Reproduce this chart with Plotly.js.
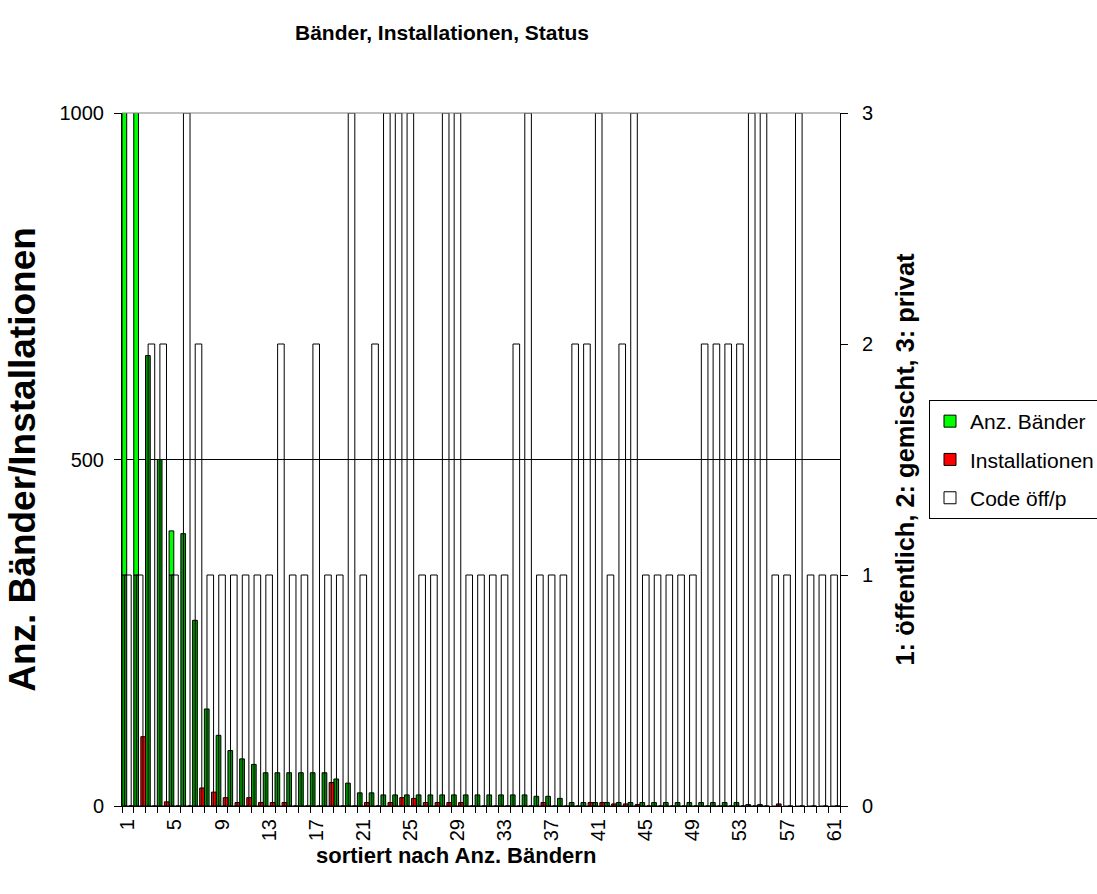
<!DOCTYPE html>
<html>
<head>
<meta charset="utf-8">
<script src="https://cdn.plot.ly/plotly-3.0.1.min.js"></script>
<style>html,body{margin:0;padding:0;background:#fff;}#chart{width:1097px;height:894px;}</style>
</head>
<body>
<div id="chart"></div>
<script>
// Category labels (sorted by number of bands)
const categories = [1,2,3,4,5,6,7,8,9,10,11,12,13,14,15,16,17,18,19,20,21,22,23,24,25,26,27,28,29,30,31,32,33,34,35,36,37,38,39,40,41,42,43,44,45,46,47,48,49,50,51,52,53,54,55,56,57,58,59,60,61];
// Anz. Bänder (left axis)
const baender = [1200,1100,650,500,397,393,268,140,102,80, 68,60,48,48,48,48,48,48,39,33, 19,19,16,16,16,16,16,16,16,16, 16,16,16,16,16,14,14,11,5,5, 5,5,5,5,5,5,5,5,5,5, 5,5,5,2,2,0,0,0,0,0,0];
// Installationen (left axis)
const installationen = [0,100,0,6,0,0,26,20,12,5, 12,5,5,5,0,0,0,34,0,0, 5,0,5,12,11,5,5,5,5,0, 0,0,0,0,0,5,0,0,0,5, 5,3,3,2,0,0,0,0,0,0, 0,0,0,0,0,3,0,0,0,0,0];
// Code öff/p (right axis): 1 öffentlich, 2 gemischt, 3 privat
const code = [1,1,2,2,1,3,2,1,1,1, 1,1,1,2,1,1,2,1,1,3, 1,2,3,3,3,1,1,3,3,1, 1,1,1,2,3,1,1,1,2,2, 3,1,2,3,1,1,1,1,1,2, 2,2,2,3,3,1,1,3,1,1,1];
const xTickLabels = [1,5,9,13,17,21,25,29,33,37,41,45,49,53,57,61];
const leftTicks = [0,500,1000];
const rightTicks = [0,1,2,3];

const LEFT_MAX = 1000, RIGHT_MAX = 3;
const FONT = 'Liberation Sans, Arial, Helvetica, sans-serif';

// The green columns look darker where the (outlined) code column crosses them.
const codeLevel = code.map(c => c * LEFT_MAX / RIGHT_MAX);
const greenLow = baender.map((v, i) => v > 0 ? Math.min(v, codeLevel[i]) : null);
const greenHigh = baender.map((v, i) => v > codeLevel[i] ? v - codeLevel[i] : null);
const greenHighBase = baender.map((v, i) => v > codeLevel[i] ? codeLevel[i] : null);

const traces = [
  {type:'bar', name:'Anz. Bänder', x:categories, y:greenLow, width:0.4, offset:-0.5,
   marker:{color:'#009a00', line:{color:'#000', width:1}}, xaxis:'x', yaxis:'y', showlegend:false, legendgroup:'a'},
  {type:'bar', name:'Anz. Bänder', x:categories, y:greenHigh, base:greenHighBase, width:0.4, offset:-0.5,
   marker:{color:'#00FF00', line:{color:'#000', width:1}}, xaxis:'x', yaxis:'y', legendgroup:'a'},
  {type:'bar', name:'Installationen', x:categories, y:installationen, width:0.4, offset:0.1,
   marker:{color:'#FF0000', line:{color:'#000', width:1}}, xaxis:'x', yaxis:'y', legendgroup:'b'},
  {type:'bar', name:'Code öff/p', x:categories, y:code, width:0.56, offset:-0.28,
   marker:{color:'rgba(255,255,255,0)', line:{color:'#000', width:1}}, xaxis:'x', yaxis:'y2', legendgroup:'c'}
];

const layout = {
  width:1097, height:894,
  margin:{l:122, r:257, t:113, b:88},
  paper_bgcolor:'#fff', plot_bgcolor:'rgba(0,0,0,0)',
  font:{family:FONT, color:'#000', size:20},
  barmode:'overlay',
  showlegend:true,
  title:{text:'Bänder, Installationen, Status', font:{family:FONT, size:21, weight:'bold', color:'#000'},
         x:0.4457, xref:'paper', xanchor:'center', y:1-33/894, yref:'container', yanchor:'middle'},
  xaxis:{range:[0.5,61.5], tickmode:'array', tickvals:xTickLabels, ticktext:xTickLabels.map(String),
         ticks:'', tickangle:-90, tickfont:{size:20}, ticklabelstandoff:4,
         showline:true, linecolor:'#000', linewidth:1, showgrid:false, zeroline:false,
         minor:{tick0:0.5, dtick:1, ticks:'outside', ticklen:6, tickcolor:'#000', tickwidth:1, showgrid:false}},
  yaxis:{range:[0,LEFT_MAX], tickmode:'array', tickvals:leftTicks, ticks:'outside', ticklen:7, tickcolor:'#000',
         tickfont:{size:20}, ticklabelstandoff:6,
         showline:true, linecolor:'#000', linewidth:1, showgrid:true, gridcolor:'#000', gridwidth:1, zeroline:false,
         title:{text:'Anz. Bänder/Installationen', font:{size:37, weight:'bold'}, standoff:12}},
  yaxis2:{range:[0,RIGHT_MAX], overlaying:'y', side:'right', tickmode:'array', tickvals:rightTicks, ticks:'outside', ticklen:7,
          tickcolor:'#000', tickfont:{size:20}, ticklabelstandoff:10,
          showline:true, linecolor:'#000', linewidth:1, showgrid:false, zeroline:false,
          title:{text:'1: öffentlich, 2: gemischt, 3: privat', font:{size:25.4, weight:'bold'}, standoff:24}},
  legend:{x:929/1097, y:1-400/894, xanchor:'left', yanchor:'top', xref:'container', yref:'container',
          bgcolor:'#fff', bordercolor:'#000', borderwidth:1, font:{size:21}, traceorder:'grouped', tracegroupgap:8,
          itemwidth:30},
  shapes:[
    {type:'line', xref:'paper', yref:'paper', x0:0, x1:1, y0:1, y1:1, line:{color:'#808080', width:1}, layer:'above'}
  ],
  annotations:[
    {text:'sortiert nach Anz. Bändern', xref:'paper', yref:'paper', x:(456-122)/718, y:(806-855)/693,
     xanchor:'center', yanchor:'middle', showarrow:false, font:{size:22, weight:'bold', family:FONT, color:'#000'}}
  ]
};

Plotly.newPlot('chart', traces, layout, {displayModeBar:false, staticPlot:true});
</script>
</body>
</html>
